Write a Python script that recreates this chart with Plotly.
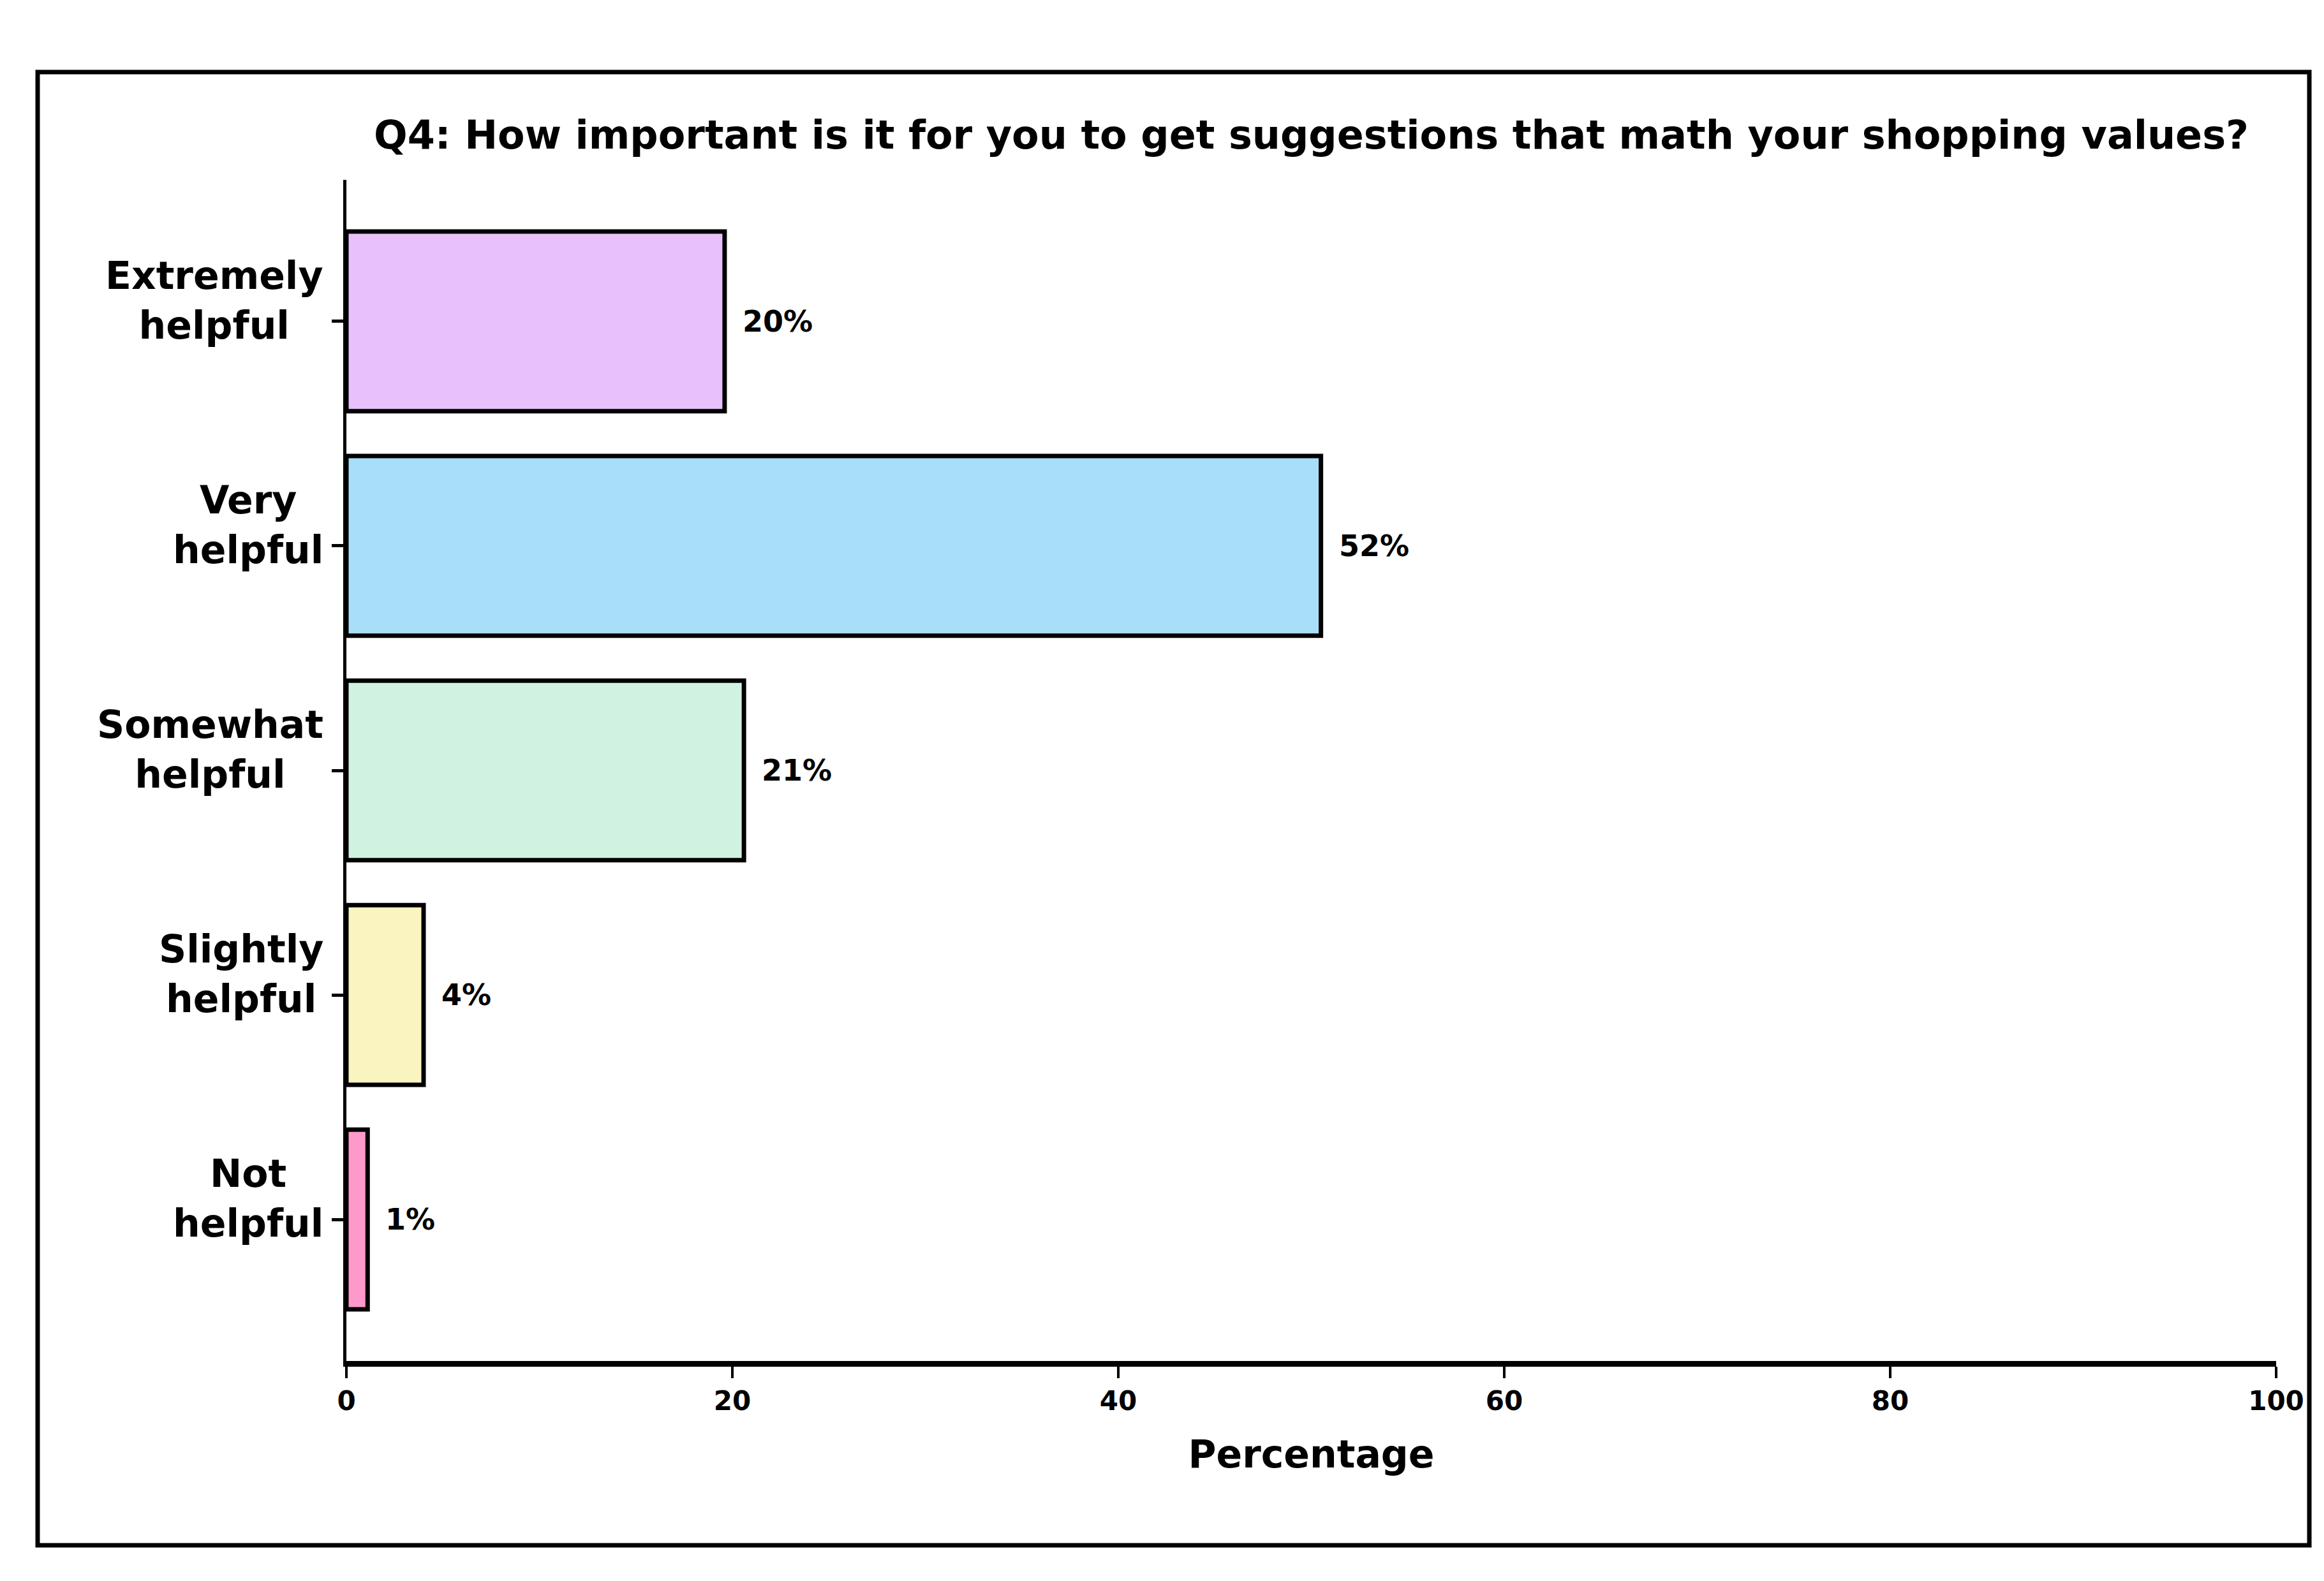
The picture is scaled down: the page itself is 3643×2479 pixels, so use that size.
import plotly.graph_objects as go

# ---- data ----
categories = ["Extremely<br>helpful", "Very<br>helpful", "Somewhat<br>helpful",
              "Slightly<br>helpful", "Not<br>helpful"]
values = [19.6, 50.5, 20.6, 4.0, 1.1]
value_labels = ["20%", "52%", "21%", "4%", "1%"]
colors = ["#E8C0FA", "#A8DEF8", "#D0F2E0", "#FAF4C0", "#FF99CC"]
x_ticks = [0, 20, 40, 60, 80, 100]
title_text = "Q4: How important is it for you to get suggestions that math your shopping values?"
x_title = "Percentage"

FONT = "DejaVu Sans"
W, H = 3643, 2479
L, R, T, B = 535, 83, 274, 353

fig = go.Figure()
fig.add_trace(go.Bar(
    y=categories, x=values, orientation="h",
    marker=dict(color=colors, line=dict(color="black", width=7)),
    width=0.8, showlegend=False, hoverinfo="skip",
))

annotations = []
for cat, v, lab in zip(categories, values, value_labels):
    # category label (centered lines)
    annotations.append(dict(
        x=0, xref="paper", y=cat, yref="y", text="<b>" + cat + "</b>",
        xanchor="right", yanchor="middle", align="center", xshift=-34, yshift=33,
        showarrow=False, font=dict(family=FONT, size=60, color="black"),
    ))
    # value label
    annotations.append(dict(
        x=v, xref="x", y=cat, yref="y", text="<b>" + lab + "</b>",
        xanchor="left", yanchor="middle", xshift=26, showarrow=False,
        font=dict(family=FONT, size=46, color="black"),
    ))

fig.update_layout(
    width=W, height=H,
    margin=dict(l=L, r=R, t=T, b=B, autoexpand=False),
    paper_bgcolor="white", plot_bgcolor="white",
    title=dict(text="<b>" + title_text + "</b>", x=(L + (W - L - R) / 2) / W, xanchor="center",
               y=1 - 203 / H, yanchor="middle", font=dict(family=FONT, size=62, color="black")),
    annotations=annotations,
    xaxis=dict(
        range=[0, 100], tickvals=x_ticks, ticktext=["<b>%d</b>" % t for t in x_ticks],
        showgrid=False, zeroline=False, showline=True, linecolor="black", linewidth=9,
        ticks="outside", ticklen=18, tickwidth=4, tickcolor="black",
        tickfont=dict(family=FONT, size=42, color="black"),
        title=dict(text="<b>" + x_title + "</b>", standoff=42,
                   font=dict(family=FONT, size=60, color="black")),
    ),
    yaxis=dict(
        range=[4.63, -0.63], showgrid=False, zeroline=False, showline=True,
        linecolor="black", linewidth=5, ticks="outside", ticklen=18, tickwidth=5,
        tickcolor="black", showticklabels=False,
    ),
    shapes=[dict(
        type="rect", xref="paper", yref="paper",
        x0=(51 - L) / (W - L - R), x1=(3612 - L) / (W - L - R),
        y0=(H - B - 2415) / (H - T - B), y1=(H - B - 105) / (H - T - B),
        line=dict(color="black", width=7), fillcolor="rgba(0,0,0,0)", layer="below",
    )],
)

fig.write_html("out.html")
